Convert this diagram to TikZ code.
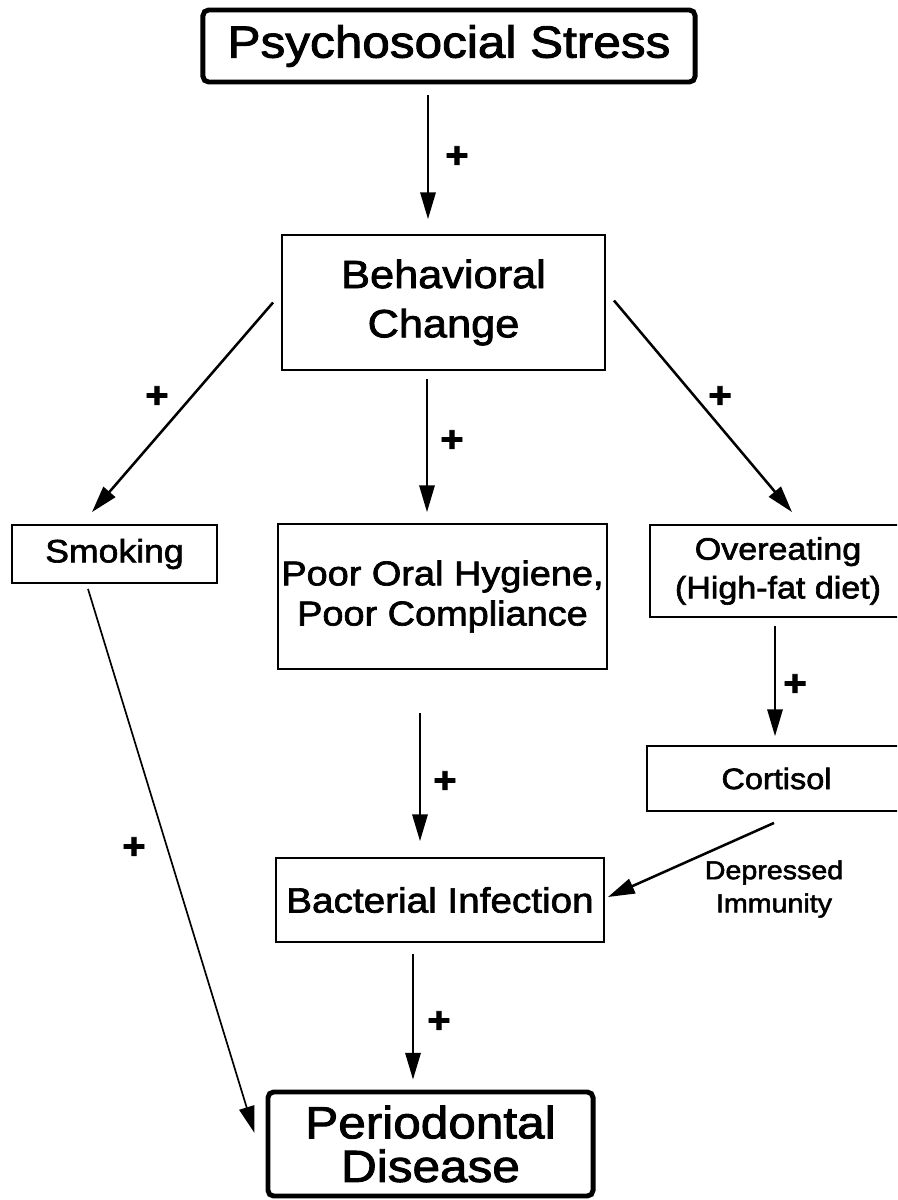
\documentclass[tikz,border=0pt]{standalone}
\usepackage{fontspec}
\setmainfont{Liberation Sans}[FakeStretch=1.1, FakeBold=2]
\usetikzlibrary{arrows.meta,calc}

\tikzset{
  box/.style={draw, line width=1.3pt, inner sep=0pt, align=center},
  bigbox/.style={box, line width=3.5pt, rounded corners=4pt},
  arr/.style={-{Triangle[length=19pt,width=11pt]}, line width=1.2pt},
  diag/.style={arr, line width=1.8pt},
  plus/.style={inner sep=0pt, font=\fontsize{26}{26}\selectfont\bfseries},
}

\begin{document}
\begin{tikzpicture}[x=0.025cm,y=-0.025cm]
  \useasboundingbox (0,0) rectangle (897,1200);
  \clip (0,0) rectangle (897,1200);

  % Nodes
  \node[bigbox, minimum width=12.3cm, minimum height=1.8cm,
        font=\fontsize{32}{35}\selectfont]                 (stress) at (449,46)   {Psychosocial Stress};
  \node[box, minimum width=8.075cm, minimum height=3.375cm,
        font=\fontsize{28}{35}\selectfont]                 (behav)  at (443.5,302.5) {Behavioral\\Change};
  \node[box, minimum width=5.125cm, minimum height=1.45cm,
        font=\fontsize{23}{28}\selectfont]                 (smoke)  at (114.5,554) {Smoking};
  \node[box, minimum width=8.225cm, minimum height=3.625cm,
        font=\fontsize{24.5}{28.5}\selectfont]             (hyg)    at (442.5,596.5) {Poor Oral Hygiene,\\Poor Compliance};
  \node[box, minimum width=6.4cm, minimum height=2.3cm,
        font=\fontsize{22}{27.5}\selectfont]               (over)   at (778,571)  {Overeating\\(High-fat diet)};
  \node[box, minimum width=6.475cm, minimum height=1.625cm,
        font=\fontsize{21}{26}\selectfont]                 (cort)   at (776.5,778.5) {Cortisol};
  \node[box, minimum width=8.2cm, minimum height=2.1cm,
        font=\fontsize{25}{30}\selectfont]                 (bact)   at (440,900)  {Bacterial Infection};
  \node[bigbox, minimum width=8.125cm, minimum height=2.6cm,
        font=\fontsize{32}{31}\selectfont]                 (perio)  at (430.5,1144) {Periodontal\\Disease};
  \node[inner sep=0pt, align=center,
        font=\fontsize{18.5}{23.5}\selectfont]             (immun)  at (774,889)  {Depressed\\Immunity};

  % Edges
  \draw[arr]  ($(stress.south)+(-21,11)$) -- ($(behav.north)+(-15.5,-15)$);
  \draw[diag] ($(behav.west)+(-8,0)$)     -- ($(smoke.north)+(-22.5,-12)$);
  \draw[arr]  ($(behav.south)+(-16.5,8)$) -- ($(hyg.north)+(-15.5,-11)$);
  \draw[diag] ($(behav.east)+(8,-2)$)     -- ($(over.north)+(14,-12)$);
  \draw[arr]  ($(over.south)+(-3,8)$)     -- ($(cort.north)+(-1.5,-9)$);
  \draw[arr]  ($(hyg.south)+(-22.5,43)$)  -- ($(bact.north)+(-20,-16)$);
  \draw[diag] ($(cort.south)+(-2.5,11)$)  -- ($(bact.east)+(3,-3)$); % depressed immunity
  \draw[arr]  ($(bact.south)+(-27,11)$)   -- ($(perio.north)+(-17.5,-10)$);
  \draw[arr]  ($(smoke.south)+(-26.5,5)$) -- ($(perio.west)+(-11,-11)$);

  % Signs
  \node[plus] (p1) at (457,157)  {+};
  \node[plus] (p2) at (157,397)  {+};
  \node[plus] (p3) at (452,441)  {+};
  \node[plus] (p4) at (720,397)  {+};
  \node[plus] (p5) at (795,685)  {+};
  \node[plus] (p6) at (445,782)  {+};
  \node[plus] (p7) at (439,1022) {+};
  \node[plus] (p8) at (134,848)  {+};
\end{tikzpicture}
\end{document}
